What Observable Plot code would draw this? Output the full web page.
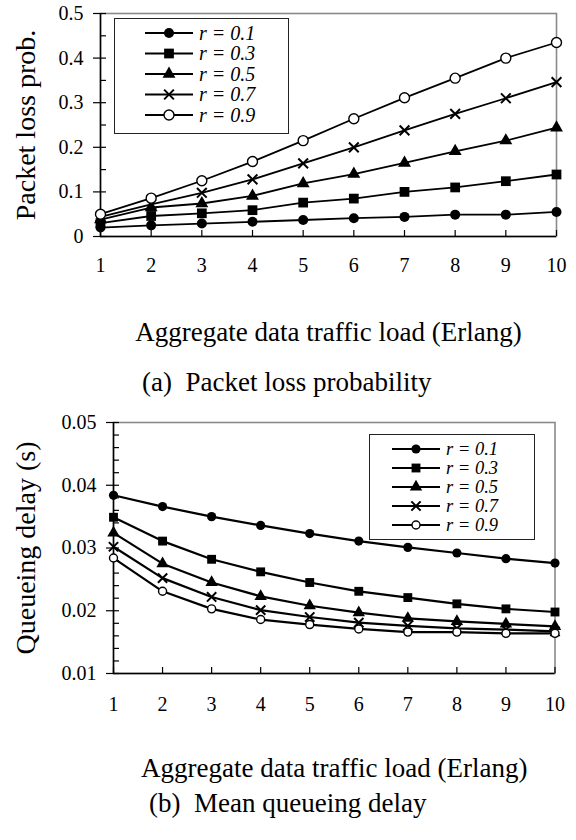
<!DOCTYPE html>
<html><head><meta charset="utf-8">
<script src="https://cdn.jsdelivr.net/npm/d3@7"></script>
<script src="https://cdn.jsdelivr.net/npm/@observablehq/plot@0.6"></script>
<style>
body{margin:0;background:#fff;}
#wrap{position:relative;width:576px;height:840px;background:#fff;font-family:"Liberation Serif","Times New Roman",serif;color:#000;}
.abs{position:absolute;}
.cap{position:absolute;font-size:27px;line-height:30px;white-space:pre;color:#000;font-family:"Liberation Serif","Times New Roman",serif;}
</style></head><body><div id="wrap"></div>
<script>
// ---------- data ----------
const loads = [1, 2, 3, 4, 5, 6, 7, 8, 9, 10];
const seriesNames = ["r = 0.1", "r = 0.3", "r = 0.5", "r = 0.7", "r = 0.9"];

// (a) packet loss probability
const lossR01 = [0.020, 0.025, 0.029, 0.033, 0.037, 0.041, 0.044, 0.049, 0.049, 0.055];
const lossR03 = [0.030, 0.046, 0.052, 0.059, 0.076, 0.085, 0.100, 0.110, 0.124, 0.139];
const lossR05 = [0.038, 0.065, 0.074, 0.091, 0.119, 0.140, 0.165, 0.191, 0.215, 0.244];
const lossR07 = [0.044, 0.072, 0.098, 0.128, 0.164, 0.200, 0.238, 0.275, 0.310, 0.346];
const lossR09 = [0.050, 0.086, 0.125, 0.168, 0.215, 0.264, 0.311, 0.355, 0.400, 0.435];

// (b) mean queueing delay (s)
const delayR01 = [0.0384, 0.0366, 0.0350, 0.0336, 0.0323, 0.0311, 0.0301, 0.0292, 0.0283, 0.0276];
const delayR03 = [0.0349, 0.0311, 0.0282, 0.0262, 0.0245, 0.0231, 0.0221, 0.0211, 0.0203, 0.0198];
const delayR05 = [0.0324, 0.0275, 0.0245, 0.0223, 0.0208, 0.0197, 0.0188, 0.0183, 0.0179, 0.0175];
const delayR07 = [0.0302, 0.0252, 0.0222, 0.0201, 0.0190, 0.0181, 0.0176, 0.0172, 0.0170, 0.0167];
const delayR09 = [0.0284, 0.0231, 0.0203, 0.0186, 0.0178, 0.0171, 0.0166, 0.0166, 0.0164, 0.0164];

// ticks
const xTickValues = [1, 2, 3, 4, 5, 6, 7, 8, 9, 10];
const xTickLabels = ["1", "2", "3", "4", "5", "6", "7", "8", "9", "10"];
const lossMajorTicks = [0, 0.1, 0.2, 0.3, 0.4, 0.5];
const lossTickLabels = ["0", "0.1", "0.2", "0.3", "0.4", "0.5"];
const lossMinorTicks = [0, 0.05, 0.1, 0.15, 0.2, 0.25, 0.3, 0.35, 0.4, 0.45, 0.5];
const delayMajorTicks = [0.01, 0.02, 0.03, 0.04, 0.05];
const delayTickLabels = ["0.01", "0.02", "0.03", "0.04", "0.05"];
const delayMinorTicks = [0.01, 0.012, 0.014, 0.016, 0.018, 0.02, 0.022, 0.024, 0.026, 0.028, 0.03,
  0.032, 0.034, 0.036, 0.038, 0.04, 0.042, 0.044, 0.046, 0.048, 0.05];

const xTitle = "Aggregate data traffic load (Erlang)";
const lossYTitle = "Packet loss prob.";
const delayYTitle = "Queueing delay (s)";
const captionA = "(a)  Packet loss probability";
const captionB = "(b)  Mean queueing delay";

// ---------- styles ----------
const FONT = "'Liberation Serif','Times New Roman',serif";
const markerStyles = [
  {symbol: "circle", fill: "black", stroke: "none", sw: 0},
  {symbol: "square", fill: "black", stroke: "none", sw: 0},
  {symbol: "triangle", fill: "black", stroke: "none", sw: 0},
  {symbol: "times", fill: "none", stroke: "black", sw: 2},
  {symbol: "circle", fill: "white", stroke: "black", sw: 1.4}
];

function toRows(arrays) {
  const rows = [];
  arrays.forEach((vals, si) => vals.forEach((v, i) => rows.push({load: loads[i], value: v, series: seriesNames[si]})));
  return rows;
}

function makeChart(cfg) {
  const rows = toRows(cfg.arrays);
  const majorLabel = new Map(cfg.major.map((t, i) => [t, cfg.majorLabels[i]]));
  const xLabel = new Map(xTickValues.map((t, i) => [t, xTickLabels[i]]));
  const marks = [
    Plot.frame({stroke: "#8a8a8a", strokeWidth: 1.6}),
    Plot.ruleX([cfg.xDomain[0]], {stroke: "black", strokeWidth: 1.5}),
    Plot.ruleY([cfg.yDomain[0]], {stroke: "black", strokeWidth: 1.5}),
    Plot.axisY({ticks: cfg.minor, tickSize: -6, text: null, label: null, strokeWidth: 1.2}),
    Plot.axisY({ticks: cfg.major, tickSize: 7, tickPadding: 10, tickFormat: d => majorLabel.get(d), label: null, fontSize: cfg.tickFont, strokeWidth: 1.2}),
    Plot.axisX({ticks: xTickValues, tickSize: -6, text: null, label: null, strokeWidth: 1.2}),
    Plot.axisX({ticks: xTickValues, tickSize: 0, tickPadding: cfg.xPad, tickFormat: d => xLabel.get(d), label: null, fontSize: cfg.tickFont}),
    Plot.text([xTitle], {text: d => d, frameAnchor: "bottom", dy: cfg.xTitleDy, fontSize: 27, textAnchor: "middle", lineAnchor: "middle"}),
    Plot.text([cfg.yTitle], {text: d => d, frameAnchor: "left", dx: cfg.yTitleDx, rotate: -90, fontSize: 28, textAnchor: "middle", lineAnchor: "middle"})
  ];
  seriesNames.forEach((name, si) => {
    const data = rows.filter(r => r.series === name);
    marks.push(Plot.line(data, {x: "load", y: "value", stroke: "black", strokeWidth: cfg.lineWidth}));
  });
  seriesNames.forEach((name, si) => {
    const data = rows.filter(r => r.series === name);
    const st = markerStyles[si];
    marks.push(Plot.dot(data, {x: "load", y: "value", symbol: st.symbol, r: cfg.r[si], fill: st.fill, stroke: st.stroke, strokeWidth: st.sw}));
  });
  return Plot.plot({
    width: 576, height: cfg.height,
    marginTop: cfg.mt, marginBottom: cfg.mb, marginLeft: cfg.ml, marginRight: cfg.mr,
    x: {domain: cfg.xDomain, label: null},
    y: {domain: cfg.yDomain, label: null},
    style: {fontFamily: FONT, fontSize: cfg.tickFont + "px", color: "black", background: "white", overflow: "visible"},
    marks
  });
}

function makeLegend(cfg) {
  const svg = d3.create("svg").attr("width", cfg.w + 2).attr("height", cfg.h + 2)
    .style("position", "absolute").style("left", cfg.left + "px").style("top", cfg.top + "px").style("overflow", "visible");
  svg.append("rect").attr("x", 0.5).attr("y", 0.5).attr("width", cfg.w).attr("height", cfg.h)
    .attr("fill", "white").attr("stroke", "#222").attr("stroke-width", 1);
  const symMap = {circle: d3.symbolCircle, square: d3.symbolSquare, triangle: d3.symbolTriangle, times: d3.symbolTimes};
  seriesNames.forEach((name, i) => {
    const y = cfg.y0 + cfg.dy * i;
    const st = markerStyles[i];
    svg.append("line").attr("x1", cfg.lx0).attr("x2", cfg.lx1).attr("y1", y).attr("y2", y)
      .attr("stroke", "black").attr("stroke-width", cfg.lineWidth);
    svg.append("path").attr("transform", `translate(${(cfg.lx0 + cfg.lx1) / 2},${y})`)
      .attr("d", d3.symbol().type(symMap[st.symbol]).size(Math.PI * cfg.r[i] * cfg.r[i])())
      .attr("fill", st.fill).attr("stroke", st.stroke).attr("stroke-width", st.sw);
    svg.append("text").attr("x", cfg.tx).attr("y", y).attr("dy", "0.34em")
      .attr("font-family", FONT).attr("font-style", "italic").attr("font-size", cfg.font)
      .text(name);
  });
  return svg.node();
}

const wrap = document.getElementById("wrap");

const chartA = makeChart({
  arrays: [lossR01, lossR03, lossR05, lossR07, lossR09],
  xDomain: [1, 10], yDomain: [0, 0.5],
  major: lossMajorTicks, majorLabels: lossTickLabels, minor: lossMinorTicks,
  height: 350, mt: 13, mb: 114, ml: 100, mr: 20,
  tickFont: 20, xPad: 21, xTitleDy: 96, yTitle: lossYTitle, yTitleDx: -74,
  lineWidth: 1.8, r: [5, 5.5, 4.8, 4.5, 5]
});
chartA.classList.add("abs"); chartA.style.left = "0px"; chartA.style.top = "0px";
wrap.appendChild(chartA);

const chartB = makeChart({
  arrays: [delayR01, delayR03, delayR05, delayR07, delayR09],
  xDomain: [1, 10], yDomain: [0.01, 0.05],
  major: delayMajorTicks, majorLabels: delayTickLabels, minor: delayMinorTicks,
  height: 385, mt: 22, mb: 112, ml: 113, mr: 21.5,
  tickFont: 20, xPad: 23, xTitleDy: 95, yTitle: delayYTitle, yTitleDx: -87,
  lineWidth: 2.2, r: [4.6, 5, 4.6, 4.3, 4]
});
chartB.classList.add("abs"); chartB.style.left = "0px"; chartB.style.top = "400px";
wrap.appendChild(chartB);

wrap.appendChild(makeLegend({left: 114, top: 18, w: 174, h: 115, y0: 15, dy: 20.5, lx0: 31, lx1: 79, tx: 85, lineWidth: 1.8, font: 20, r: [5, 5.5, 4.8, 4.5, 5]}));
wrap.appendChild(makeLegend({left: 369, top: 434, w: 165, h: 105, y0: 15, dy: 19, lx0: 23, lx1: 71, tx: 77, lineWidth: 2.2, font: 18.5, r: [4.6, 5, 4.6, 4.3, 4]}));

const capA = document.createElement("div");
capA.className = "cap"; capA.style.left = "142px"; capA.style.top = "367px"; capA.textContent = captionA;
wrap.appendChild(capA);
const capB = document.createElement("div");
capB.className = "cap"; capB.style.left = "149px"; capB.style.top = "788px"; capB.textContent = captionB;
wrap.appendChild(capB);
</script>
</body></html>
